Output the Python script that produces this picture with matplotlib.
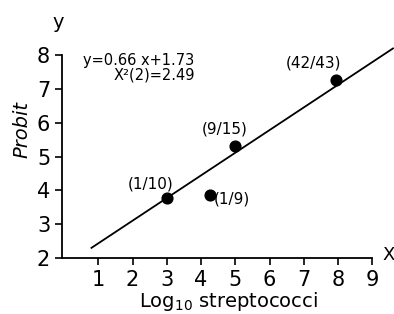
import numpy as np
import matplotlib
matplotlib.use('Agg')
from matplotlib import pyplot as plt

matplotlib.rcParams['font.family'] = 'DejaVu Sans'

# observed groups
log_strep = [3.0, 4.26, 5.0, 7.94]
probit = [3.78, 3.86, 5.31, 7.27]
group_labels = ['(1/10)', '(1/9)', '(9/15)', '(42/43)']
label_offsets = [(-12, 10), (3, -3), (-8, 12), (-16, 12)]
label_ha = ['center', 'left', 'center', 'center']

# fitted line end points
fit_x = [0.8, 9.6]
fit_y = [2.3, 8.2]

xticks = [1, 2, 3, 4, 5, 6, 7, 8, 9]
yticks = [2, 3, 4, 5, 6, 7, 8]

W, H = 394, 314
fig = plt.figure(figsize=(W / 100, H / 100), dpi=100)
ax = fig.add_axes([62 / W, (H - 258) / H, (W - 62) / W, 258 / H])
ax.set_xlim(-0.06, 9.63)
ax.set_ylim(2, 2 + 258 / 33.8)
ax.patch.set_alpha(0)

ax.plot(fit_x, fit_y, color='black', lw=1.3, clip_on=False)
ax.scatter(log_strep, probit, s=60, color='black', zorder=3, clip_on=False)
for x, y, lab, off, ha in zip(log_strep, probit, group_labels, label_offsets, label_ha):
    ax.annotate(lab, (x, y), xytext=off, textcoords='offset points',
                ha=ha, va='center', fontsize=11)

ax.text(0.55, 7.85, 'y=0.66 x+1.73', fontsize=10.5, ha='left', va='center')
ax.text(3.83, 7.42, 'X²(2)=2.49', fontsize=10.5, ha='right', va='center')

for s in ['top', 'right']:
    ax.spines[s].set_visible(False)
ax.spines['bottom'].set_bounds(-0.06, 9)
ax.spines['left'].set_bounds(2, 8)
ax.spines['bottom'].set_linewidth(1.3)
ax.spines['left'].set_linewidth(1.3)

ax.set_xticks(xticks)
ax.set_yticks(yticks)
ax.tick_params(labelsize=15, width=1.2, length=5, direction='out')

ax.set_xlabel('Log$_{10}$ streptococci', fontsize=14, labelpad=0)
ax.set_ylabel('Probit', fontsize=14, style='italic', labelpad=4)

fig.text(58 / W, 1 - 22 / H, 'y', fontsize=14, ha='center', va='center')
fig.text(389 / W, 1 - 255 / H, 'X', fontsize=13, ha='center', va='center')

fig.savefig('out.png', dpi=100)
